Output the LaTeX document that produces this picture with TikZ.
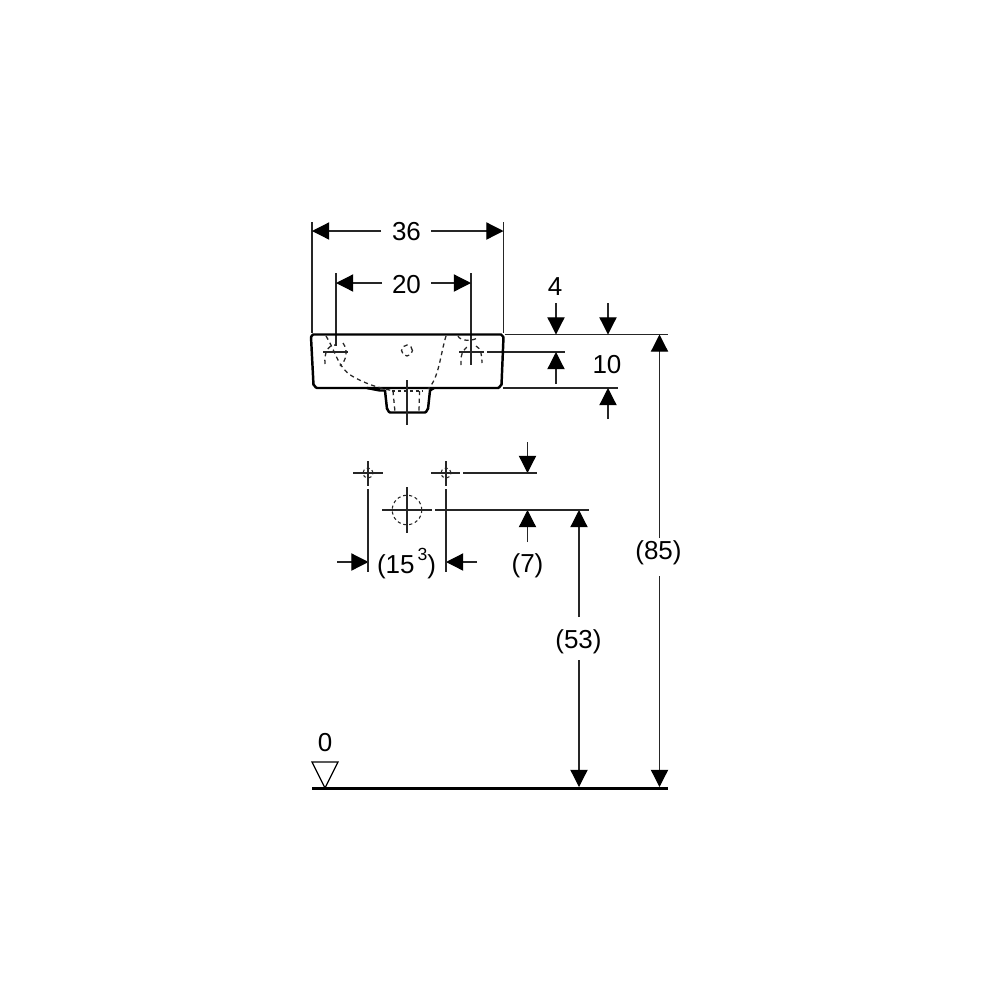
\documentclass[tikz,border=0pt]{standalone}
\usepackage{fontspec}
\setmainfont{Liberation Sans}
\usetikzlibrary{arrows.meta}
\tikzset{
 thinline/.style={line width=0.36pt,black!85},
 dimarrow/.style={line width=0.36pt,black!85,-{Triangle[length=4.9pt,width=4.9pt,color=black]}},
 outline/.style={line width=0.7pt,black,line join=round},
 hidden/.style={line width=0.36pt,black!85,dash pattern=on 1.2pt off 1pt},
 finehidden/.style={line width=0.3pt,black!85,dash pattern=on 0.9pt off 0.8pt},
 dimtext/.style={inner sep=0pt,font=\fontsize{7.4pt}{8pt}\selectfont,text=black},
}
\begin{document}
\begin{tikzpicture}[x=0.1mm,y=-0.1mm]
\useasboundingbox[fill=white] (0,0) rectangle (1000,1000);
% texts
\node[dimtext] (t36) at (406.5,232) {36};
\node[dimtext] (t20) at (406.5,284.5) {20};
\node[dimtext] (t4) at (555,287) {4};
\node[dimtext] (t10) at (607,364.5) {10};
\node[dimtext] (t85) at (658.5,552.5) {(85)};
\node[dimtext] (t53) at (578.5,641.5) {(53)};
\node[dimtext] (t7) at (527.5,566) {(7)};
\node[dimtext] (t15) at (406.5,563.5) {(15\raisebox{0.95ex}{\fontsize{5pt}{5pt}\selectfont\,3})};
\node[dimtext] (t0) at (325,743) {0};
% extension lines
\coordinate (e36at) at (312,222); \coordinate (e36ab) at (312,333);
\coordinate (e36bt) at (503.5,222); \coordinate (e36bb) at (503.5,333);
\coordinate (e20at) at (336,273); \coordinate (e20ab) at (336,346);
\coordinate (e20bt) at (471,273); \coordinate (e20bb) at (471,365);
\draw[thinline] (e36at) -- (e36ab);
\draw[thinline] (e36bt) -- (e36bb);
\draw[thinline] (e20at) -- (e20ab);
\draw[thinline] (e20bt) -- (e20bb);
\coordinate (topA) at (505,334.5); \coordinate (topB) at (668,334.5);
\coordinate (botA) at (503,388); \coordinate (botB) at (618,388);
\coordinate (midA) at (487,352); \coordinate (midB) at (565,352);
\draw[thinline] (topA) -- (topB);
\draw[thinline] (botA) -- (botB);
\draw[thinline] (midA) -- (midB);
% dimension arrows
\coordinate (a36l) at (312,231); \coordinate (a36r) at (503.5,231);
\coordinate (b36l) at (381,231); \coordinate (b36r) at (431,231);
\draw[dimarrow] (b36l) -- (a36l);
\draw[dimarrow] (b36r) -- (a36r);
\coordinate (a20l) at (336,283); \coordinate (a20r) at (471,283);
\coordinate (b20l) at (382,283); \coordinate (b20r) at (431,283);
\draw[dimarrow] (b20l) -- (a20l);
\draw[dimarrow] (b20r) -- (a20r);
\coordinate (a4t) at (556,334.5); \coordinate (b4t) at (556,303);
\coordinate (a4b) at (556,352); \coordinate (b4b) at (556,384);
\draw[dimarrow] (b4t) -- (a4t);
\draw[dimarrow] (b4b) -- (a4b);
\coordinate (a10t) at (608,334.5); \coordinate (b10t) at (608,303);
\coordinate (a10b) at (608,388); \coordinate (b10b) at (608,419);
\draw[dimarrow] (b10t) -- (a10t);
\draw[dimarrow] (b10b) -- (a10b);
\coordinate (a85t) at (659.5,334.5); \coordinate (b85t) at (659.5,538);
\coordinate (a85b) at (659.5,787); \coordinate (b85b) at (659.5,576);
\draw[dimarrow] (b85t) -- (a85t);
\draw[dimarrow] (b85b) -- (a85b);
\coordinate (a53t) at (579,510); \coordinate (b53t) at (579,617);
\coordinate (a53b) at (579,787); \coordinate (b53b) at (579,660);
\draw[dimarrow] (b53t) -- (a53t);
\draw[dimarrow] (b53b) -- (a53b);
\coordinate (a7t) at (527.5,473); \coordinate (b7t) at (527.5,442);
\coordinate (a7b) at (527.5,510); \coordinate (b7b) at (527.5,542);
\draw[dimarrow] (b7t) -- (a7t);
\draw[dimarrow] (b7b) -- (a7b);
\coordinate (a15l) at (368.5,562); \coordinate (b15l) at (337,562);
\coordinate (a15r) at (446,562); \coordinate (b15r) at (477,562);
\draw[dimarrow] (b15l) -- (a15l);
\draw[dimarrow] (b15r) -- (a15r);
% basin
\draw[outline] (313,334.5) -- (501,334.5) to[out=0,in=-90] (503.5,337)
  -- (501.5,385) to[out=90,in=0] (498,388) -- (317,388) to[out=180,in=90] (313.5,385)
  -- (311,337) to[out=-90,in=180] (313,334.5) -- cycle;
\draw[outline] (367,388) -- (380,390.5) -- (385,390.5) -- (387,409) to[out=85,in=180] (390,412.5)
  -- (425,412.5) to[out=0,in=95] (428,409) -- (430,390.5) -- (434,388);
% hidden lines of the bowl
\draw[hidden] (326,336) .. controls (336,352) and (338,368) .. (352,376) .. controls (364,383) and (378,388) .. (392,390.5);
\draw[hidden] (446,336) .. controls (440,356) and (439,378) .. (428,389);
\draw[hidden] (393,391) -- (395,412);
\draw[hidden] (419.5,391) -- (419,412);
\draw[finehidden] (392,391) -- (422,391);
\draw[hidden] (458,336) .. controls (460,341) and (472,342) .. (479,337);
\draw[hidden] (325,364) .. controls (324,353) and (328,345) .. (335,345);
\draw[hidden] (343,343) .. controls (348,350) and (347,360) .. (340,366);
\draw[hidden] (461,365) .. controls (460,352) and (465,347) .. (470,346);
\draw[hidden] (476,346) .. controls (481,348) and (482,356) .. (482,363);
\node[draw,circle,hidden,minimum size=3.1pt,inner sep=0pt] (hole) at (407,350.5) {};
% centre lines on the basin
\coordinate (c1l) at (323,352); \coordinate (c1r) at (348,352);
\coordinate (c2l) at (459,352); \coordinate (c2r) at (484,352);
\coordinate (c3t) at (407,380); \coordinate (c3b) at (407,425);
\draw[thinline] (c1l) -- (c1r);
\draw[thinline] (c2l) -- (c2r);
\draw[thinline] (c3t) -- (c3b);
% connection points
\node[draw,circle,finehidden,minimum size=2.9pt,inner sep=0pt] (p1) at (368,473) {};
\node[draw,circle,finehidden,minimum size=2.9pt,inner sep=0pt] (p2) at (446,473) {};
\node[draw,circle,finehidden,minimum size=8.4pt,inner sep=0pt] (p3) at (407,510) {};
\coordinate (l1) at (353,473); \coordinate (l2) at (383,473);
\coordinate (l3) at (431,473); \coordinate (l4) at (460,473);
\coordinate (l5) at (463,473); \coordinate (l6) at (537,473);
\coordinate (v1) at (368,461); \coordinate (v2) at (368,486);
\coordinate (v3) at (368,489); \coordinate (v4) at (368,572);
\coordinate (v5) at (446,461); \coordinate (v6) at (446,486);
\coordinate (v7) at (446,489); \coordinate (v8) at (446,572);
\coordinate (m1) at (382,510); \coordinate (m2) at (432,510);
\coordinate (m3) at (435,510); \coordinate (m4) at (589,510);
\coordinate (m5) at (407,487); \coordinate (m6) at (407,533);
\foreach \a/\b in {l1/l2,l3/l4,l5/l6,v1/v2,v3/v4,v5/v6,v7/v8,m1/m2,m3/m4,m5/m6}
  \draw[thinline] (\a) -- (\b);
% floor level
\coordinate (fl) at (312,788); \coordinate (fr) at (668,788);
\draw[line width=0.85pt,black] (fl) -- (fr);
\coordinate (tl) at (312,762); \coordinate (tr) at (338,762); \coordinate (tb) at (325,788);
\draw[line width=0.33pt,black,line join=miter] (tl) -- (tr) -- (tb) -- cycle;
\end{tikzpicture}
\end{document}
